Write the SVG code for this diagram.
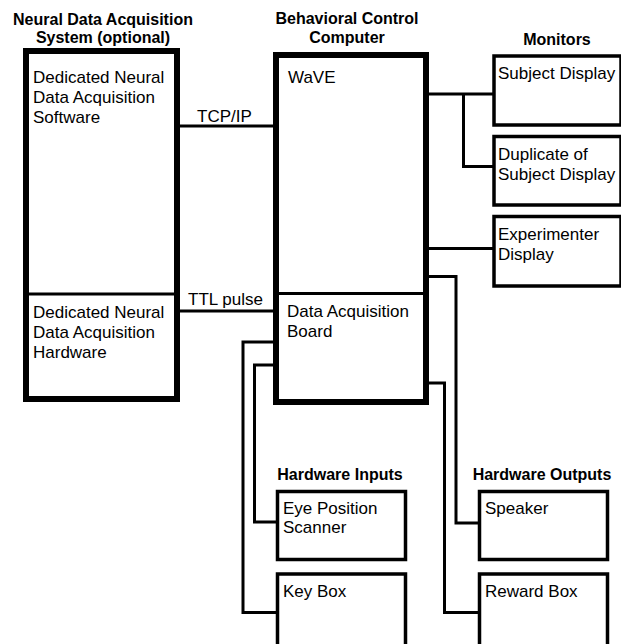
<svg xmlns="http://www.w3.org/2000/svg" width="621" height="644" viewBox="0 0 621 644">
<style>
.t{font-family:"Liberation Sans",Arial,sans-serif;font-size:17px;fill:#000}
.h{font-family:"Liberation Sans",Arial,sans-serif;font-size:16px;font-weight:bold;fill:#000;text-anchor:middle}
.big{fill:#fff;stroke:#000;stroke-width:6}
.box{fill:#fff;stroke:#000;stroke-width:3.5}
.div{stroke:#000;stroke-width:3}
.c{fill:none;stroke:#000;stroke-width:3}
</style>
<rect width="621" height="644" fill="#fff"/>
<g id="connectors">
<line class="c" x1="180" y1="126" x2="273" y2="126"/>
<line class="c" x1="180" y1="311" x2="273" y2="311"/>
<polyline class="c" points="429,94 494,94"/>
<polyline class="c" points="463.5,94 463.5,166.5 494,166.5"/>
<polyline class="c" points="429,248.5 494,248.5"/>
<polyline class="c" points="429,276.5 456,276.5 456,523 479,523"/>
<polyline class="c" points="429,383 444.5,383 444.5,612.5 479,612.5"/>
<polyline class="c" points="273,342 243,342 243,612.5 277,612.5"/>
<polyline class="c" points="273,365 254.5,365 254.5,522 277,522"/>
<text class="t" x="197" y="122">TCP/IP</text>
<text class="t" x="188" y="305">TTL pulse</text>
</g>
<g id="neural-system">
<text class="h" x="103" y="25">Neural Data Acquisition</text>
<text class="h" x="103" y="43">System (optional)</text>
<rect class="big" x="26" y="51" width="151" height="348"/>
<line class="div" x1="26" y1="294" x2="177" y2="294"/>
</g>
<g id="neural-software">
<text class="t" x="33" y="83">Dedicated Neural</text>
<text class="t" x="33" y="103">Data Acquisition</text>
<text class="t" x="33" y="123">Software</text>
</g>
<g id="neural-hardware">
<text class="t" x="33" y="318">Dedicated Neural</text>
<text class="t" x="33" y="338">Data Acquisition</text>
<text class="t" x="33" y="358">Hardware</text>
</g>
<g id="behavioral-computer">
<text class="h" x="347" y="24">Behavioral Control</text>
<text class="h" x="347" y="43">Computer</text>
<rect class="big" x="276" y="55" width="150" height="347"/>
<line class="div" x1="276" y1="293.5" x2="426" y2="293.5"/>
</g>
<g id="wave">
<text class="t" x="288" y="83">WaVE</text>
</g>
<g id="daq-board">
<text class="t" x="287" y="317">Data Acquisition</text>
<text class="t" x="287" y="337">Board</text>
</g>
<text class="h" x="557" y="45">Monitors</text>
<g id="subject-display">
<rect class="box" x="494" y="56" width="127" height="69"/>
<text class="t" x="498" y="79">Subject Display</text>
</g>
<g id="duplicate-display">
<rect class="box" x="494" y="136.5" width="127" height="68.5"/>
<text class="t" x="498" y="160">Duplicate of</text>
<text class="t" x="498" y="180">Subject Display</text>
</g>
<g id="experimenter-display">
<rect class="box" x="494" y="216.5" width="127" height="69.5"/>
<text class="t" x="498" y="240">Experimenter</text>
<text class="t" x="498" y="260">Display</text>
</g>
<text class="h" x="340" y="480">Hardware Inputs</text>
<text class="h" x="542" y="480">Hardware Outputs</text>
<g id="eye-scanner">
<rect class="box" x="277.5" y="491.5" width="128" height="68"/>
<text class="t" x="283" y="514">Eye Position</text>
<text class="t" x="283" y="533">Scanner</text>
</g>
<g id="key-box">
<rect class="box" x="277.5" y="574" width="128" height="80"/>
<text class="t" x="283" y="597">Key Box</text>
</g>
<g id="speaker">
<rect class="box" x="479.5" y="491.5" width="128" height="68"/>
<text class="t" x="485" y="514">Speaker</text>
</g>
<g id="reward-box">
<rect class="box" x="479.5" y="574" width="128" height="80"/>
<text class="t" x="485" y="597">Reward Box</text>
</g>
</svg>
